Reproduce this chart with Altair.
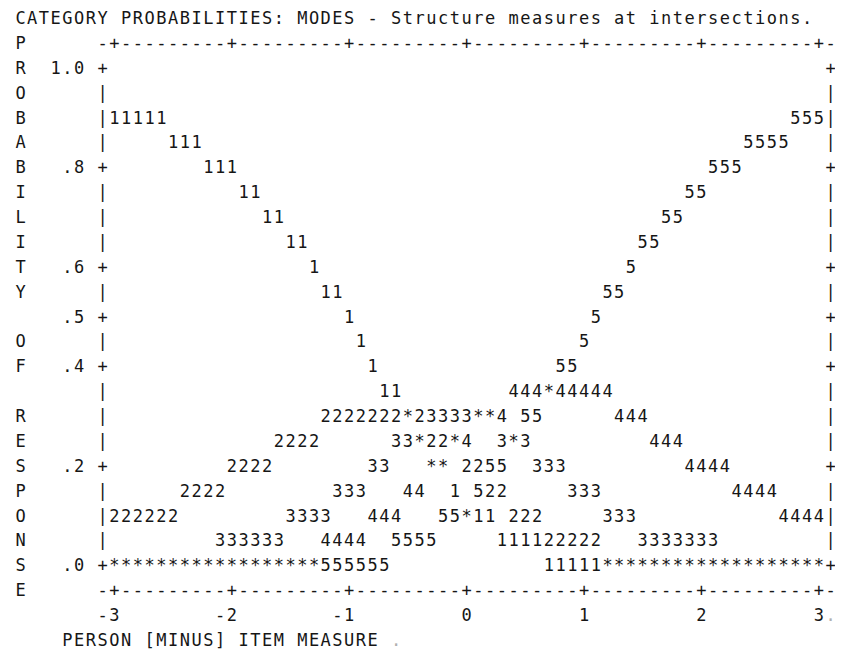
import altair as alt
import pandas as pd

# ---------------- data ----------------
TITLE = "CATEGORY PROBABILITIES: MODES - Structure measures at intersections."
Y_AXIS_TITLE = "PROBABILITY OF RESPONSE"
X_AXIS_TITLE = "PERSON [MINUS] ITEM MEASURE"

Y_TICKS = [1.0, 0.8, 0.6, 0.5, 0.4, 0.2, 0.0]
Y_TICK_LABELS = ["1.0", ".8", ".6", ".5", ".4", ".2", ".0"]
X_TICKS = [-3, -2, -1, 0, 1, 2, 3]
X_TICK_LABELS = ["-3", "-2", "-1", "0", "1", "2", "3"]

# probability level of each printed row
ROW_PROBS = [0.90, 0.85, 0.80, 0.75, 0.70, 0.65, 0.60, 0.55, 0.50, 0.45,
             0.40, 0.35, 0.30, 0.25, 0.20, 0.15, 0.10, 0.05, 0.00]
# runs of category glyphs on each row: (measure where the run starts, glyphs)
ROW_RUNS = [
    [(-3.0, "11111"), (2.8, "555")],
    [(-2.5, "111"), (2.4, "5555")],
    [(-2.2, "111"), (2.1, "555")],
    [(-1.9, "11"), (1.9, "55")],
    [(-1.7, "11"), (1.7, "55")],
    [(-1.5, "11"), (1.5, "55")],
    [(-1.3, "1"), (1.4, "5")],
    [(-1.2, "11"), (1.2, "55")],
    [(-1.0, "1"), (1.1, "5")],
    [(-0.9, "1"), (1.0, "5")],
    [(-0.8, "1"), (0.8, "55")],
    [(-0.7, "11"), (0.4, "444*44444")],
    [(-1.2, "2222222*23333**4"), (0.5, "55"), (1.3, "444")],
    [(-1.6, "2222"), (-0.6, "33*22*4"), (0.3, "3*3"), (1.6, "444")],
    [(-2.0, "2222"), (-0.8, "33"), (-0.3, "**"), (0.0, "2255"), (0.6, "333"), (1.9, "4444")],
    [(-2.4, "2222"), (-1.1, "333"), (-0.5, "44"), (-0.1, "1"), (0.1, "522"), (0.9, "333"), (2.3, "4444")],
    [(-3.0, "222222"), (-1.5, "3333"), (-0.8, "444"), (-0.2, "55*11"), (0.4, "222"), (1.2, "333"), (2.7, "4444")],
    [(-2.1, "333333"), (-1.2, "4444"), (-0.6, "5555"), (0.3, "111122222"), (1.5, "3333333")],
    [(-3.0, "******************"), (-1.2, "555555"), (0.7, "11111"), (1.2, "*******************")],
]

# ---------------- text grid layout ----------------
CELL_W = 11.74      # px per character column
CELL_H = 24.88      # px per text row
W, H = 827, 643
ORIGIN_X = 12.5     # x of column 0 centre inside the view
ORIGIN_Y = 11.0     # y of row 0 centre inside the view
COL_M0 = 8          # column of measure -3
ROW_P1 = 2          # row of probability 1.0
COLS_PER_UNIT = 10
ROWS_PER_UNIT = 20
X_MIN, X_MAX = -3, 3
LEFT_COL = COL_M0 - 1
RIGHT_COL = COL_M0 + (X_MAX - X_MIN) * COLS_PER_UNIT + 1
TOP_ROW = ROW_P1 - 1
BOT_ROW = ROW_P1 + ROWS_PER_UNIT + 1

def col_m(c):
    return X_MIN + (c - COL_M0) / COLS_PER_UNIT

def row_p(r):
    return 1 - (r - ROW_P1) / ROWS_PER_UNIT

def m_col(m):
    return COL_M0 + round((m - X_MIN) * COLS_PER_UNIT)

def p_row(p):
    return ROW_P1 + round((1 - p) * ROWS_PER_UNIT)

recs = []
def put(col, row, text, shade="#161616"):
    for k, ch in enumerate(text):
        if ch != " ":
            recs.append({"m": col_m(col + k), "p": row_p(row), "ch": ch, "shade": shade})

# title
put(0, 0, TITLE)
# vertical y-axis title
for k, ch in enumerate(Y_AXIS_TITLE):
    put(0, TOP_ROW + k, ch)
# y tick labels (right aligned before the frame)
for p, lab in zip(Y_TICKS, Y_TICK_LABELS):
    put(LEFT_COL - 1 - len(lab), p_row(p), lab)
# horizontal axis lines (top and bottom)
tick_cols = {m_col(t) for t in X_TICKS}
for row in (TOP_ROW, BOT_ROW):
    line = "".join("+" if c in tick_cols else "-" for c in range(LEFT_COL, RIGHT_COL + 1))
    put(LEFT_COL, row, line)
# vertical frame sides
tick_rows = {p_row(p) for p in Y_TICKS}
for row in range(TOP_ROW + 1, BOT_ROW):
    ch = "+" if row in tick_rows else "|"
    put(LEFT_COL, row, ch)
    put(RIGHT_COL, row, ch)
# x tick labels (right aligned on tick)
for t, lab in zip(X_TICKS, X_TICK_LABELS):
    put(m_col(t) - len(lab) + 1, BOT_ROW + 1, lab)
put(m_col(X_MAX) + 1, BOT_ROW + 1, ".", "#b0b0b0")
# x axis title
put(4, BOT_ROW + 2, X_AXIS_TITLE)
put(4 + len(X_AXIS_TITLE) + 1, BOT_ROW + 2, ".", "#b0b0b0")
# category curves
for p, runs in zip(ROW_PROBS, ROW_RUNS):
    for m0, glyphs in runs:
        put(m_col(m0), p_row(p), glyphs)

df = pd.DataFrame(recs)

x_domain = [col_m(-ORIGIN_X / CELL_W), col_m((W - ORIGIN_X) / CELL_W)]
y_domain = [row_p((H - ORIGIN_Y) / CELL_H), row_p(-ORIGIN_Y / CELL_H)]

chart = (
    alt.Chart(df)
    .mark_text(font="DejaVu Sans Mono", fontSize=17, baseline="middle", align="center")
    .encode(
        x=alt.X("m:Q", scale=alt.Scale(domain=x_domain, nice=False, zero=False), axis=None),
        y=alt.Y("p:Q", scale=alt.Scale(domain=y_domain, nice=False, zero=False), axis=None),
        text="ch:N",
        color=alt.Color("shade:N", scale=None),
    )
    .properties(width=W, height=H, padding=0, background="white",
                autosize=alt.AutoSizeParams(type="none"))
    .configure_view(stroke=None)
)

chart.save("out.html", embed_options={"renderer": "svg", "actions": False})
